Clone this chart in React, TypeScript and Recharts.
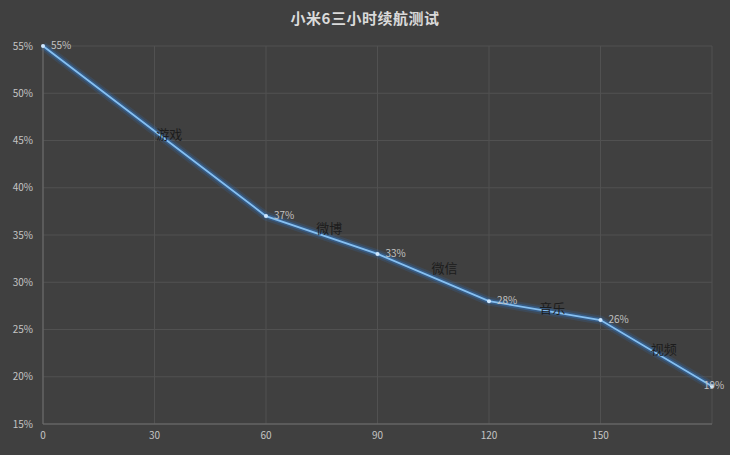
import React from 'react';
import { LineChart, Line, XAxis, YAxis, CartesianGrid, LabelList, ReferenceDot } from 'recharts';

// minutes of use and remaining battery (%)
const MINUTES = [0, 60, 90, 120, 150, 180];
const BATTERY = [55, 37, 33, 28, 26, 19];

// activity names written along each segment, with where they sit
const ACTIVITIES = ['游戏', '微博', '微信', '音乐', '视频'];
const ACTIVITY_X = [34, 77, 108, 137, 167];
const ACTIVITY_Y = [45.6, 35.7, 31.5, 27.2, 22.9];

const X_TICKS = [0, 30, 60, 90, 120, 150, 180];
const Y_TICKS = [15, 20, 25, 30, 35, 40, 45, 50, 55];

const TITLE = '小米6三小时续航测试';

const FONT = '"Noto Sans CJK SC", "Noto Sans", sans-serif';
const BG = '#404040';
const GRID = '#515151';
const AXIS = '#6e6e6e';
const TICK = '#c4c4c4';
const GLOW = '#2f80dc';
const LINE = '#86c0f2';

const data = MINUTES.map((m, i) => ({ minute: m, battery: BATTERY[i] }));

const renderValueLabel = (props: any) => {
  const { x, y, value, index } = props;
  const last = index === BATTERY.length - 1;
  return (
    <text
      x={last ? x + 2 : x + 8}
      y={y + 3}
      textAnchor={last ? 'middle' : 'start'}
      fontSize={10}
      fontFamily={FONT}
      fill="#c2c2c2"
    >
      {value}%
    </text>
  );
};

export default function App() {
  return (
    <div style={{ position: 'fixed', left: 0, top: 0, width: 730, height: 455, background: BG }}>
      <div
        style={{
          position: 'absolute',
          top: 7,
          width: '100%',
          textAlign: 'center',
          color: '#dadada',
          fontFamily: FONT,
          fontWeight: 700,
          fontSize: 15,
          letterSpacing: 0.5,
        }}
      >
        {TITLE}
      </div>
      <LineChart width={730} height={455} data={data} margin={{ top: 46, right: 18, bottom: 11, left: 8 }}>
        <CartesianGrid stroke={GRID} strokeWidth={1} />
        <XAxis
          type="number"
          dataKey="minute"
          domain={[0, 180]}
          ticks={X_TICKS}
          tickFormatter={(v: number) => (v === 180 ? '' : String(v))}
          tickLine={false}
          tickSize={0}
          tickMargin={8}
          height={20}
          axisLine={{ stroke: AXIS }}
          tick={{ fontSize: 10, fill: TICK, fontFamily: FONT }}
        />
        <YAxis
          type="number"
          domain={[15, 55]}
          ticks={Y_TICKS}
          tickFormatter={(v: number) => `${v}%`}
          tickLine={false}
          tickSize={0}
          tickMargin={10}
          width={35}
          axisLine={{ stroke: AXIS }}
          tick={{ fontSize: 10, fill: TICK, fontFamily: FONT }}
        />
        {/* soft glow under the line */}
        <Line dataKey="battery" stroke={GLOW} strokeWidth={9} strokeOpacity={0.15} dot={false} activeDot={false} isAnimationActive={false} />
        <Line dataKey="battery" stroke={GLOW} strokeWidth={5} strokeOpacity={0.35} dot={false} activeDot={false} isAnimationActive={false} />
        <Line
          dataKey="battery"
          stroke={LINE}
          strokeWidth={1.8}
          dot={{ r: 2, fill: '#cfe8ff', stroke: 'none' }}
          activeDot={false}
          isAnimationActive={false}
        >
          <LabelList dataKey="battery" content={renderValueLabel} />
        </Line>
        {ACTIVITIES.map((name, i) => (
          <ReferenceDot
            key={name}
            x={ACTIVITY_X[i]}
            y={ACTIVITY_Y[i]}
            r={0}
            stroke="none"
            fill="none"
            label={{ value: name, position: 'center', fill: '#1c1c1c', fontSize: 13, fontFamily: FONT }}
          />
        ))}
      </LineChart>
    </div>
  );
}
